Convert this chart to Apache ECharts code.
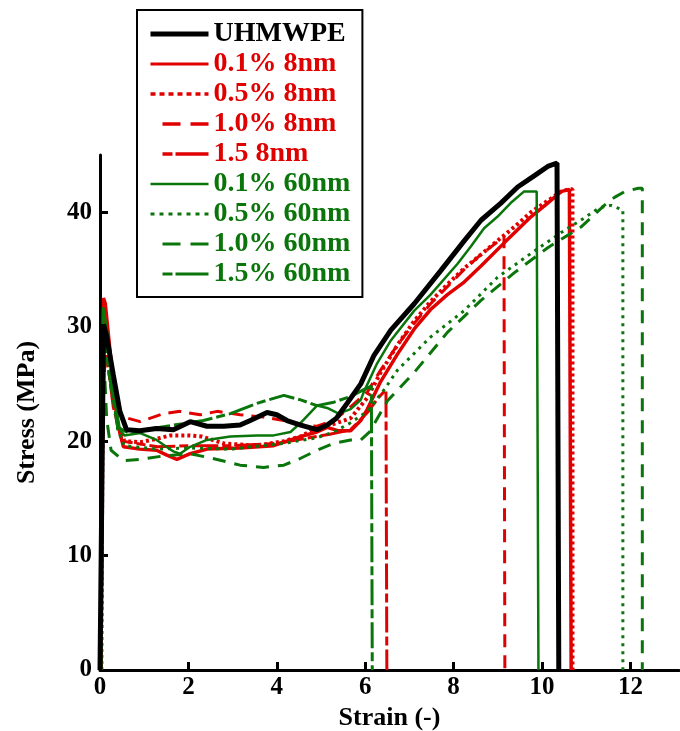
<!DOCTYPE html>
<html>
<head>
<meta charset="utf-8">
<script src="https://cdn.jsdelivr.net/npm/echarts@6/dist/echarts.min.js"></script>
<style>
  html, body { margin: 0; padding: 0; background: #fff; }
  #chart { width: 680px; height: 731px; }
</style>
</head>
<body>
<div id="chart"></div>
<script>
// Stress-strain curves: [strain, stress (MPa)]
const uhmwpe = [[0,0],[0.04,15],[0.08,30.2],[0.15,29.2],[0.3,25.8],[0.45,22.6],[0.6,21.0],[0.9,20.9],[1.28,21.1],[1.66,21.0],[2.04,21.7],[2.42,21.3],[2.8,21.3],[3.17,21.4],[3.4,21.8],[3.78,22.5],[4.0,22.3],[4.23,21.8],[4.54,21.4],[4.91,21.0],[5.14,21.4],[5.35,22.0],[5.59,23.3],[5.9,25.0],[6.2,27.5],[6.58,29.7],[7.11,32.0],[7.71,34.9],[8.24,37.5],[8.62,39.3],[9.07,40.8],[9.45,42.2],[9.83,43.2],[10.13,44.0],[10.34,44.3],[10.38,44.3],[10.38,0]];
const red01 = [[0.02,0],[0.05,20],[0.08,32.5],[0.12,32.0],[0.25,27],[0.4,21.5],[0.53,19.5],[0.9,19.3],[1.28,19.2],[1.5,18.8],[1.74,18.4],[2.04,18.9],[2.42,19.3],[3.17,19.4],[3.93,19.6],[4.31,20.1],[4.54,20.4],[4.91,20.8],[5.14,21.2],[5.4,20.9],[5.67,20.9],[5.9,21.8],[6.05,22.8],[6.2,24.0],[6.35,25.2],[6.73,27.6],[7.11,29.8],[7.48,31.5],[7.86,32.8],[8.24,33.9],[8.62,35.3],[9.14,37.3],[9.75,39.6],[10.13,40.8],[10.43,41.8],[10.62,42.0],[10.66,42.0],[10.66,0]];
const red05 = [[0.03,0],[0.06,25],[0.09,31.5],[0.2,28],[0.4,21.5],[0.55,20.0],[0.91,19.9],[1.28,20.2],[1.6,20.5],[2.0,20.5],[2.3,20.4],[2.8,19.8],[3.55,19.6],[4.16,20.0],[4.54,20.4],[4.91,21.2],[5.29,21.5],[5.67,22.0],[6.05,23.8],[6.35,26.0],[6.73,28.4],[7.11,30.5],[7.48,32.2],[7.86,33.7],[8.24,35.1],[8.62,36.3],[8.99,37.5],[9.37,38.7],[9.75,40.0],[10.13,41.0],[10.43,41.8],[10.6,42.0],[10.69,42.0],[10.69,0]];
const red10 = [[0.03,0],[0.07,28],[0.1,31.8],[0.25,27],[0.45,22.3],[0.53,22.1],[0.91,21.7],[1.43,22.4],[1.81,22.6],[2.27,22.3],[2.65,22.6],[3.17,22.3],[3.7,22.1],[4.16,21.8],[4.54,21.4],[4.91,21.3],[5.29,21.8],[5.67,23.0],[6.05,24.3],[6.35,26.2],[6.73,28.4],[7.11,30.3],[7.48,32.0],[7.86,33.5],[8.24,35.0],[8.62,36.3],[8.99,37.4],[9.14,37.9],[9.16,37.9],[9.16,0]];
const red15 = [[0.03,0],[0.06,20],[0.09,26],[0.15,27.5],[0.3,23],[0.5,20.0],[1.3,19.5],[2.0,19.6],[3.0,19.6],[4.0,19.8],[4.6,20.2],[5.2,20.6],[5.67,21.0],[6.05,22.5],[6.3,23.8],[6.47,24.5],[6.49,24.5],[6.49,0]];
const green01 = [[0.01,0],[0.04,25],[0.07,31.7],[0.15,30],[0.3,24.5],[0.45,21],[0.55,20.5],[0.91,20.7],[1.28,20.1],[1.66,19.1],[1.81,18.9],[2.04,19.5],[2.42,20.1],[2.95,20.4],[3.55,20.5],[3.93,20.5],[4.31,20.8],[4.54,21.6],[4.91,23.1],[5.14,22.9],[5.4,22.4],[5.67,22.8],[5.9,23.6],[5.97,24.3],[6.27,26.8],[6.58,28.8],[7.11,31.4],[7.48,32.8],[8.09,35.5],[8.39,37.0],[8.69,38.6],[8.99,39.6],[9.29,40.8],[9.59,41.8],[9.88,41.8],[9.92,41.8],[9.92,0]];
const green05 = [[0.02,0],[0.05,22],[0.08,30.5],[0.2,27],[0.4,21],[0.55,19.6],[1.3,19.3],[2.0,19.4],[3.0,19.3],[3.4,19.5],[4.16,19.8],[4.91,20.3],[5.29,20.8],[5.67,21.6],[6.05,22.6],[6.43,24.5],[6.73,26.2],[7.48,29.1],[8.24,31.4],[8.99,34.3],[9.75,36.4],[10.5,38.4],[10.88,39.3],[11.3,40.4],[11.56,40.6],[11.76,40.3],[11.83,40.2],[11.83,0]];
const green10 = [[0.02,0],[0.05,20],[0.08,28],[0.15,22],[0.25,19.2],[0.53,18.3],[0.91,18.4],[1.43,18.7],[2.04,18.9],[2.65,18.4],[3.17,17.9],[3.7,17.7],[4.16,17.9],[4.54,18.5],[4.91,19.2],[5.29,19.8],[5.67,20.1],[5.9,20.1],[6.1,20.8],[6.5,23.5],[7.11,26.0],[7.86,29.5],[8.62,32.3],[9.37,34.7],[10.13,36.9],[10.88,38.7],[11.41,40.6],[11.64,41.3],[11.87,41.8],[12.18,42.1],[12.27,42.1],[12.27,0]];
const green15 = [[0.02,0],[0.05,24],[0.08,30],[0.2,26],[0.4,21.2],[0.6,20.8],[1.0,21.0],[1.66,21.4],[2.34,21.8],[2.95,22.4],[3.55,23.3],[4.16,24.0],[4.54,23.6],[4.91,23.1],[5.29,23.4],[5.67,23.9],[5.97,24.5],[6.14,24.8],[6.16,24.8],[6.16,0]];

const seriesNames = ['UHMWPE','0.1% 8nm','0.5% 8nm','1.0% 8nm','1.5 8nm','0.1% 60nm','0.5% 60nm','1.0% 60nm','1.5% 60nm'];
const xTicks = [0, 2, 4, 6, 8, 10, 12];
const yTicks = [0, 10, 20, 30, 40];

const BLACK = '#000000';
const RED = '#e00000';
const GREEN = '#0a750a';
const FONT = '"Liberation Serif", "Times New Roman", serif';

const curves = [uhmwpe, red01, red05, red10, red15, green01, green05, green10, green15];
const styles = [
  { color: BLACK, width: 5, type: 'solid' },
  { color: RED, width: 3.5, type: 'solid' },
  { color: RED, width: 4, type: [3, 3] },
  { color: RED, width: 3, type: [13, 8] },
  { color: RED, width: 3, type: [26, 4, 9, 4] },
  { color: GREEN, width: 2.5, type: 'solid' },
  { color: GREEN, width: 3, type: [3, 5] },
  { color: GREEN, width: 3, type: [13, 9] },
  { color: GREEN, width: 3, type: [26, 4, 9, 4] }
];
// Legend samples use slightly different dash rhythms than the plotted curves
const legendDash = ['solid', 'solid', [5, 4], [0, 12, 18, 10, 18], [0, 12, 10, 3, 30], 'solid', [4, 5], [0, 12, 18, 10, 18], [0, 12, 10, 3, 30]];
const legendWidth = [5, 3, 3.5, 3.5, 3.5, 2.5, 3, 3, 3];

const series = curves.map((data, i) => ({
  name: seriesNames[i],
  type: 'line',
  data: data,
  symbol: 'none',
  showSymbol: false,
  z: 2 + (i === 0 ? 1 : 0),
  itemStyle: { color: styles[i].color },
  lineStyle: { color: styles[i].color, width: styles[i].width, type: styles[i].type }
}));

const axisText = { fontFamily: FONT, fontWeight: 'bold', fontSize: 25, color: '#000' };

const option = {
  animation: false,
  backgroundColor: '#fff',
  grid: { left: 100, right: 1, top: 155, bottom: 61, outerBoundsMode: 'none', containLabel: false },
  xAxis: {
    type: 'value', min: 0, max: 13.1,
    name: 'Strain (-)', nameLocation: 'middle', nameGap: 34,
    nameTextStyle: { fontFamily: FONT, fontWeight: 'bold', fontSize: 26, color: '#000' },
    axisLine: { lineStyle: { color: '#000', width: 3 } },
    axisTick: { inside: true, length: 8, customValues: xTicks, lineStyle: { color: '#000', width: 3 } },
    axisLabel: Object.assign({ customValues: xTicks, margin: 5 }, axisText),
    splitLine: { show: false }
  },
  yAxis: {
    type: 'value', min: 0, max: 45,
    name: 'Stress (MPa)', nameLocation: 'middle', nameGap: 60, nameRotate: 90,
    nameTextStyle: { fontFamily: FONT, fontWeight: 'bold', fontSize: 26, color: '#000' },
    axisLine: { show: true, lineStyle: { color: '#000', width: 3 } },
    axisTick: { show: true, inside: true, length: 8, customValues: yTicks, lineStyle: { color: '#000', width: 3 } },
    axisLabel: Object.assign({ customValues: yTicks, margin: 8 }, axisText),
    splitLine: { show: false }
  },
  legend: {
    orient: 'vertical',
    left: 137, top: 10,
    padding: [9, 12, 8, 11],
    itemGap: 0,
    itemWidth: 58,
    itemHeight: 14,
    borderColor: '#000',
    borderWidth: 2,
    backgroundColor: '#fff',
    itemStyle: { opacity: 0 },
    textStyle: { fontFamily: FONT, fontWeight: 'bold', fontSize: 28, lineHeight: 30 },
    data: seriesNames.map((n, i) => ({
      name: n,
      textStyle: { color: styles[i].color },
      lineStyle: { width: legendWidth[i], type: legendDash[i] }
    }))
  },
  series: series
};

const chart = echarts.init(document.getElementById('chart'), null, { renderer: 'canvas' });
chart.setOption(option);
</script>
</body>
</html>
